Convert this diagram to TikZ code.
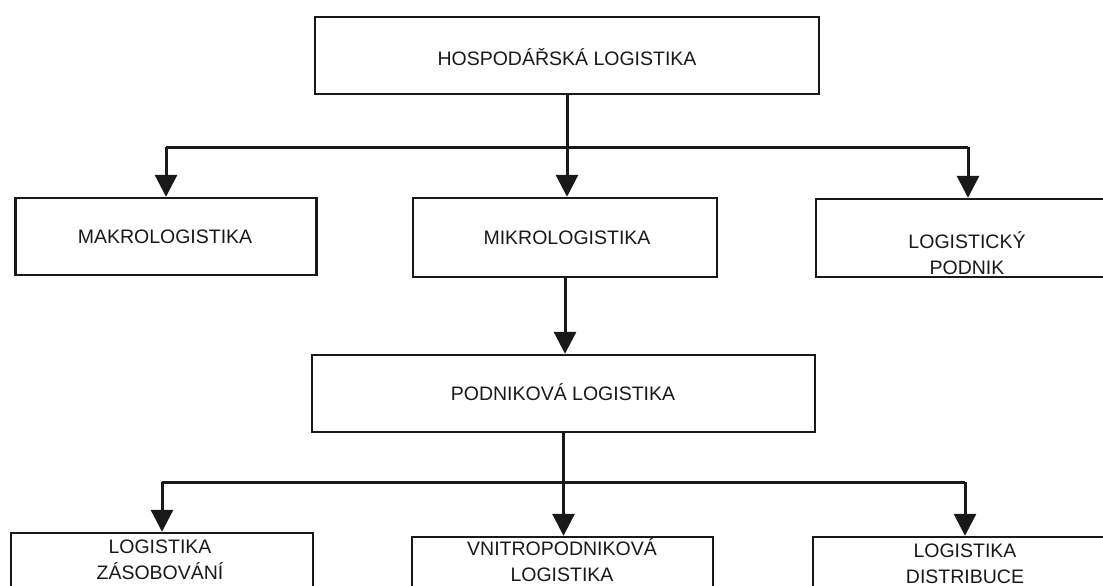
\documentclass[tikz,border=0pt]{standalone}
\usepackage{fontspec}
\setmainfont{Liberation Sans}
\usetikzlibrary{arrows.meta,calc}
\definecolor{ink}{gray}{0.1}
\begin{document}
\begin{tikzpicture}[x=1pt,y=-1pt,
  box/.style={draw=ink, line width=2.4pt, rectangle, inner sep=0pt},
  txt/.style={text=ink, font=\fontsize{19.5}{26}\selectfont, align=center, inner sep=0pt},
  conn/.style={draw=ink, line width=3pt, -{Triangle[width=22pt,length=22pt]}},
  bar/.style={draw=ink, line width=3pt}]
\useasboundingbox (0,0) rectangle (1103,586);
\clip (0,0) rectangle (1103,586);
\fill[white] (0,0) rectangle (1103,586);

% level 0
\node[box, minimum width=504pt, minimum height=77pt] (top) at (567,55.5) {};
\node[txt] (toptext) at (567,57) {HOSPODÁŘSKÁ LOGISTIKA};

% level 1
\node[box, minimum width=301pt, minimum height=77pt] (makro) at (166,236.5) {};
\node[txt] (makrotext) at (165,237) {MAKROLOGISTIKA};
\node[box, minimum width=304pt, minimum height=79pt] (mikro) at (565,237.5) {};
\node[txt] (mikrotext) at (567,238) {MIKROLOGISTIKA};
\node[box, minimum width=304pt, minimum height=78pt] (lpod) at (968,238) {};
\node[txt] (lpodtext) at (967,253) {LOGISTICKÝ\\PODNIK};

% level 2
\node[box, minimum width=503pt, minimum height=77pt] (podnik) at (563.5,393.5) {};
\node[txt] (podniktext) at (563,392) {PODNIKOVÁ LOGISTIKA};

% level 3
\node[box, minimum width=302pt, minimum height=80pt] (zas) at (162,573) {};
\node[txt] (zastext) at (160,560) {LOGISTIKA\\ZÁSOBOVÁNÍ};
\node[box, minimum width=301pt, minimum height=80pt] (vnitro) at (562.5,577) {};
\node[txt] (vnitrotext) at (562,560) {VNITROPODNIKOVÁ\\LOGISTIKA};
\node[box, minimum width=304pt, minimum height=80pt] (dist) at (965,577) {};
\node[txt] (disttext) at (965,564) {LOGISTIKA\\DISTRIBUCE};

% connectors level 0 -> 1
\coordinate (j1) at (567,147);
\draw[bar] (makro.north |- j1) -- (lpod.north |- j1);
\draw[conn] (top.south) -- (top.south |- mikro.north);
\draw[conn] (makro.north |- j1) -- (makro.north);
\draw[conn] (lpod.north |- j1) -- (lpod.north);

% mikro -> podnik
\draw[conn] (mikro.south) -- (mikro.south |- podnik.north);

% connectors level 2 -> 3
\coordinate (j2) at (563,482);
\draw[bar] (zas.north |- j2) -- (dist.north |- j2);
\draw[conn] (podnik.south) -- (podnik.south |- vnitro.north);
\draw[conn] (zas.north |- j2) -- (zas.north);
\draw[conn] (dist.north |- j2) -- (dist.north);
\end{tikzpicture}
\end{document}
